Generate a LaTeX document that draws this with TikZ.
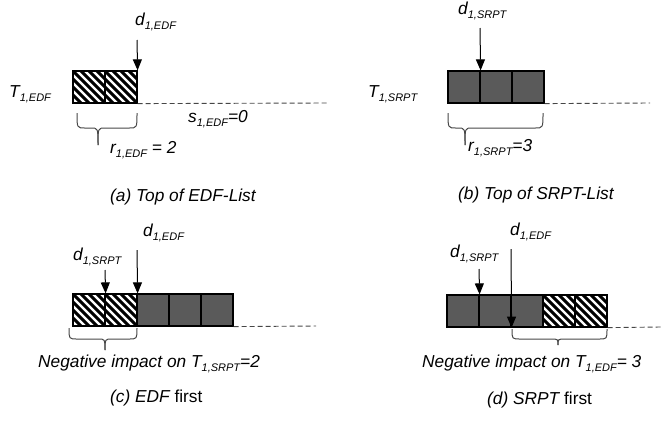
\documentclass[tikz,border=0pt]{standalone}
\usepackage{fontspec}
\setmainfont{Liberation Sans}
\usetikzlibrary{arrows.meta}
\definecolor{boxgray}{RGB}{90,90,90}
\definecolor{linegray}{RGB}{70,70,70}
\newcommand{\lab}[2]{#1\raisebox{-0.45ex}{\fontsize{11}{11}\selectfont #2}}
\newcommand{\mybrace}[6]{%
  \draw[bracestyle] (#1,#4) .. controls (#1,#5) .. (#1+8,#5) -- (#3-7,#5) .. controls (#3,#5) .. (#3,#6);
  \draw[bracestyle] (#2,#4) .. controls (#2,#5) .. (#2-8,#5) -- (#3+7,#5) .. controls (#3,#5) .. (#3,#6);}
\begin{document}
\begin{tikzpicture}[x=1pt,y=-1pt,
  cell/.style={draw=black,line width=1.2pt,minimum width=32pt,minimum height=32pt,inner sep=0pt},
  grey/.style={cell,fill=boxgray},
  hatch/.style={cell,fill=white,path picture={
      \foreach \c in {-32,-24,...,32}
        \draw[line width=3pt,shift={(path picture bounding box.center)}] (\c-20,-20) -- ++(40,40);}},
  arr/.style={-{Triangle[width=9pt,length=11pt]},line width=1pt},
  dashline/.style={dash pattern=on 5pt off 3pt,draw=linegray,line width=0.9pt},
  bracestyle/.style={draw=linegray,line width=1pt},
  txt/.style={inner sep=0pt,anchor=base west,font=\fontsize{17.3}{20}\selectfont\itshape},
  captxt/.style={inner sep=0pt,anchor=base west,font=\fontsize{17.3}{20}\selectfont}]
\useasboundingbox (0,0) rectangle (661,424);
% ---------- (a)
\node[hatch] (a1) at (89,87) {};
\node[hatch] (a2) at (121,87) {};
\coordinate (a0) at (137,40);
\draw[arr] (a0) -- (a2.north east);
\coordinate (ae) at (328,103);
\draw[dashline] (a2.south east) -- (ae);
\node[txt] (ad) at (135,25) {\lab{d}{1,EDF}};
\node[txt] (aT) at (9,97) {\lab{T}{1,EDF}};
\node[txt] (as) at (188,122) {\lab{s}{1,EDF}=0};
\node[txt] (ar) at (110,153) {\lab{r}{1,EDF} = 2};
\node[captxt] (acap) at (110,201) {\itshape (a) Top of EDF-List};
\mybrace{77}{137}{98}{113}{128}{145}
% ---------- (b)
\node[grey] (b1) at (464,87) {};
\node[grey] (b2) at (496,87) {};
\node[grey] (b3) at (528,87) {};
\coordinate (b0) at (480,28);
\draw[arr] (b0) -- (b1.north east);
\coordinate (be) at (650,103);
\draw[dashline] (b3.south east) -- (be);
\node[txt] (bd) at (458,14) {\lab{d}{1,SRPT}};
\node[txt] (bT) at (368,97) {\lab{T}{1,SRPT}};
\node[txt] (br) at (468,151) {\lab{r}{1,SRPT}=3};
\node[captxt] (bcap) at (458,199) {\itshape (b) Top of SRPT-List};
\mybrace{448}{543}{465}{113}{128}{145}
% ---------- (c)
\node[hatch] (c1) at (89,310) {};
\node[hatch] (c2) at (121,310) {};
\node[grey] (c3) at (153,310) {};
\node[grey] (c4) at (185,310) {};
\node[grey] (c5) at (217,310) {};
\coordinate (c0s) at (105,270);
\coordinate (c0e) at (137,250);
\draw[arr] (c0s) -- (c1.north east);
\draw[arr] (c0e) -- (c2.north east);
\coordinate (ce) at (316,326);
\draw[dashline] (c5.south east) -- (ce);
\node[txt] (cde) at (143,236) {\lab{d}{1,EDF}};
\node[txt] (cds) at (73,260) {\lab{d}{1,SRPT}};
\node[txt] (cneg) at (38,367) {Negative impact on \lab{T}{1,SRPT}=2};
\node[captxt] (ccap) at (110,402) {\itshape (c) EDF\upshape\ first};
\mybrace{69}{137}{105}{328}{339}{350}
% ---------- (d)
\node[grey] (d1) at (463,311) {};
\node[grey] (d2) at (495,311) {};
\node[grey] (d3) at (527,311) {};
\node[hatch] (d4) at (559,311) {};
\node[hatch] (d5) at (591,311) {};
\coordinate (d0s) at (479,269);
\coordinate (d0e) at (511,249);
\draw[arr] (d0s) -- (d1.north east);
\draw[arr] (d0e) -- (d2.south east);
\coordinate (de) at (661,327);
\draw[dashline] (d5.south east) -- (de);
\node[txt] (dde) at (510,235) {\lab{d}{1,EDF}};
\node[txt] (dds) at (450,257) {\lab{d}{1,SRPT}};
\node[txt] (dneg) at (422,367) {Negative impact on \lab{T}{1,EDF}= 3};
\node[captxt] (dcap) at (487,404) {\itshape (d) SRPT\upshape\ first};
\mybrace{512}{607}{558}{329}{339}{345}
\end{tikzpicture}
\end{document}
